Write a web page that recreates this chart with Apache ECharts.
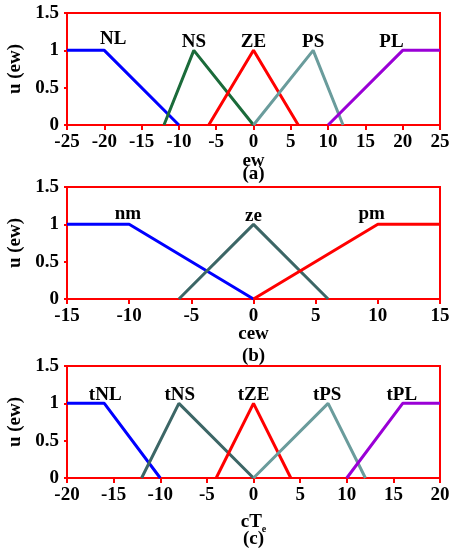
<!DOCTYPE html>
<html><head><meta charset="utf-8">
<script src="https://cdn.jsdelivr.net/npm/echarts@6/dist/echarts.min.js"></script>
<style>html,body{margin:0;padding:0;background:#fff}#c{width:453px;height:550px}</style>
</head><body><div id="c"></div>
<script>
// Panel (a): ew
const aNL = [[-25,1],[-20,1],[-10,0]];
const aNS = [[-12,0],[-8,1],[0,0]];
const aZE = [[-6,0],[0,1],[6,0]];
const aPS = [[0,0],[8,1],[12,0]];
const aPL = [[10,0],[20,1],[25,1]];
const aLabels = ['NL','NS','ZE','PS','PL'];
const aLabelPos = [[-18.8,1.15],[-8,1.11],[0,1.11],[8,1.11],[18.5,1.11]];
// Panel (b): cew
const bNM = [[-15,1],[-10,1],[0,0]];
const bZE = [[-6,0],[0,1],[6,0]];
const bPM = [[0,0],[10,1],[15,1]];
const bLabels = ['nm','ze','pm'];
const bLabelPos = [[-10.1,1.14],[0,1.11],[9.5,1.14]];
// Panel (c): cTe
const cNL = [[-20,1],[-16,1],[-10,0]];
const cNS = [[-12,0],[-8,1],[0,0]];
const cZE = [[-4,0],[0,1],[4,0]];
const cPS = [[0,0],[8,1],[12,0]];
const cPL = [[10,0],[16,1],[20,1]];
const cLabels = ['tNL','tNS','tZE','tPS','tPL'];
const cLabelPos = [[-15.9,1.11],[-7.9,1.11],[0,1.11],[7.9,1.11],[15.9,1.11]];

const FONT = '"Liberation Serif","Times New Roman",serif';
const FS = 19;
const RED = '#ff0000';
const BLUE = '#0000ff', GREEN = '#1b6b3a', TEAL = '#6a9c9c', PURPLE = '#9a00d6', SLATE = '#3c6666';

const chart = echarts.init(document.getElementById('c'), null, {renderer:'canvas'});

function grid(top){ return {left:67, right:13, top:top, height:112, show:true, borderColor:RED, borderWidth:2,
  backgroundColor:'transparent', containLabel:false, outerBoundsMode:'none'}; }
function xAx(i, min, max, name, gap, lh){
  return {type:'value', gridIndex:i, min:min, max:max, interval:5,
    axisLine:{onZero:false, lineStyle:{color:RED, width:2}},
    axisTick:{show:true, inside:false, length:5, lineStyle:{color:RED, width:2}},
    splitLine:{show:false},
    axisLabel:{color:'#000', fontFamily:FONT, fontWeight:'bold', fontSize:FS, margin:8},
    name:name, nameLocation:'middle', nameGap:gap, nameMoveOverlap:false,
    nameTextStyle:{color:'#000', fontFamily:FONT, fontWeight:'bold', fontSize:FS, lineHeight:lh, verticalAlign:'top',
      rich:{n:{fontFamily:FONT, fontWeight:'bold', fontSize:FS, color:'#000', lineHeight:lh},
            s:{fontFamily:FONT, fontWeight:'bold', fontSize:10, color:'#000', verticalAlign:'bottom', lineHeight:lh, padding:[0,0,-3,0]}}}
  };
}
function yAx(i){
  return {type:'value', gridIndex:i, min:0, max:1.5, interval:0.5,
    axisLine:{onZero:false, lineStyle:{color:RED, width:2}},
    axisTick:{show:true, length:3, lineStyle:{color:RED, width:2}},
    splitLine:{show:false},
    axisLabel:{color:'#000', fontFamily:FONT, fontWeight:'bold', fontSize:FS, margin:8},
    name:'u (ew)', nameLocation:'middle', nameGap:42, nameRotate:90, nameMoveOverlap:false,
    nameTextStyle:{color:'#000', fontFamily:FONT, fontWeight:'bold', fontSize:FS}
  };
}
function line(i, data, color){
  return {type:'line', xAxisIndex:i, yAxisIndex:i, data:data, symbol:'none',
    lineStyle:{color:color, width:3}, animation:false};
}
function labels(i, names, pos){
  return {type:'scatter', xAxisIndex:i, yAxisIndex:i, symbolSize:0, z:5,
    itemStyle:{color:'rgba(0,0,0,0)', opacity:1},
    data:names.map((n,k)=>({name:n, value:pos[k]})),
    label:{show:true, position:'inside', formatter:'{b}', color:'#000', opacity:1,
      fontFamily:FONT, fontWeight:'bold', fontSize:FS},
    emphasis:{disabled:true}, silent:true, animation:false};
}

chart.setOption({
  animation:false,
  grid:[grid(13), grid(187), grid(366)],
  xAxis:[
    xAx(0,-25,25,'{n|ew}\n{n|(a)}',30,13),
    xAx(1,-15,15,'{n|cew}\n{n|(b)}',24,22),
    xAx(2,-20,20,'{n|cT}{s|e}\n{n|(c)}',36,17)
  ],
  yAxis:[yAx(0), yAx(1), yAx(2)],
  series:[
    line(0,aNL,BLUE), line(0,aNS,GREEN), line(0,aZE,RED), line(0,aPS,TEAL), line(0,aPL,PURPLE),
    labels(0,aLabels,aLabelPos),
    line(1,bNM,BLUE), line(1,bZE,SLATE), line(1,bPM,RED),
    labels(1,bLabels,bLabelPos),
    line(2,cNL,BLUE), line(2,cNS,SLATE), line(2,cZE,RED), line(2,cPS,TEAL), line(2,cPL,PURPLE),
    labels(2,cLabels,cLabelPos)
  ]
});
</script></body></html>
